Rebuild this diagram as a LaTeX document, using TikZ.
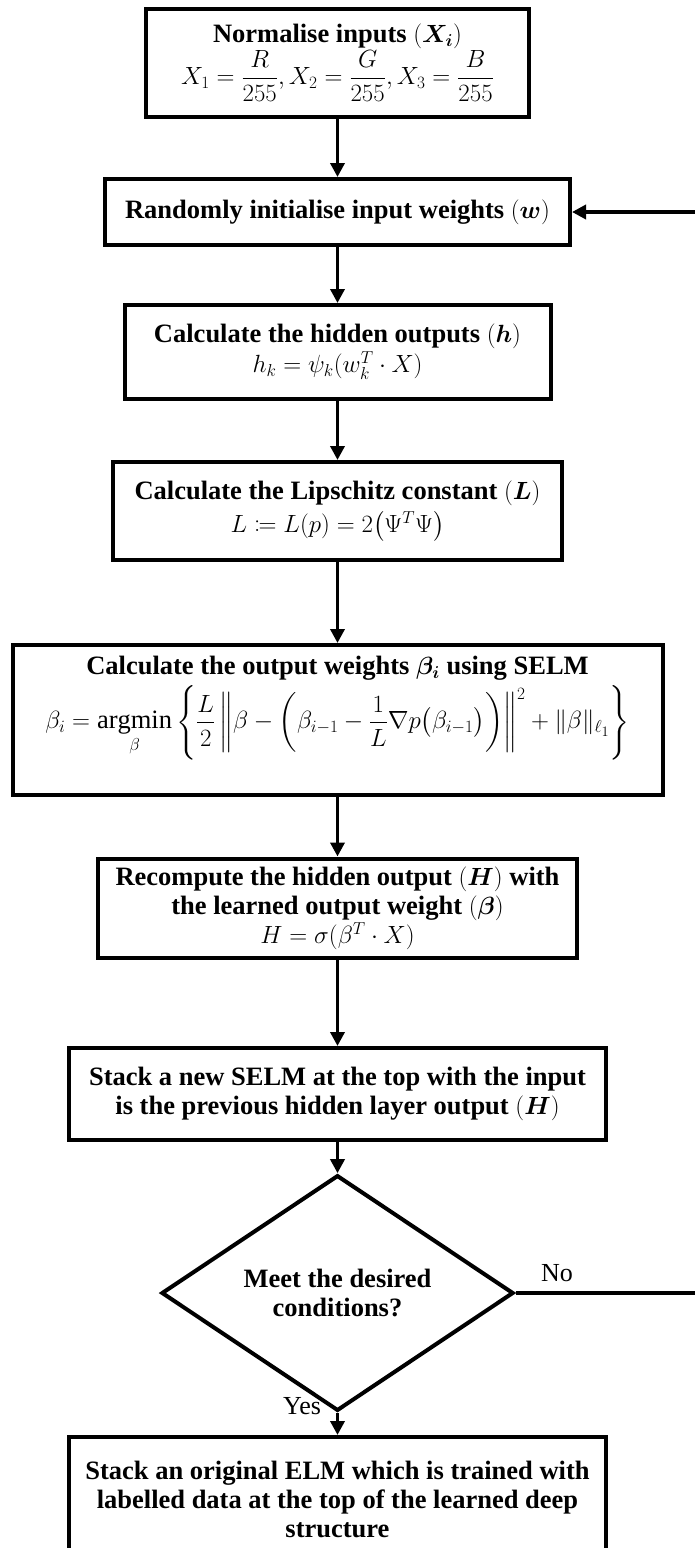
\documentclass[tikz,border=0pt]{standalone}
\usepackage{amsmath,mathtools,bm}
\usepackage{fontspec}
\setmainfont{Liberation Serif}
\usetikzlibrary{arrows.meta,shapes.geometric}
\begin{document}
\begin{tikzpicture}[x=1pt,y=-1pt,
  txt/.style={font=\bfseries\fontsize{26.5}{29}\selectfont,align=center},
  box/.style={txt,draw,line width=4pt,rectangle,inner sep=0pt},
  dia/.style={txt,draw,line width=4pt,diamond,inner sep=0pt},
  flow/.style={line width=3.5pt,-{Triangle[length=14pt,width=14pt]}},
  lbl/.style={font=\fontsize{26}{28}\selectfont,inner sep=0pt}]
\useasboundingbox (0,0) rectangle (694,1548);
\fill[white] (0,0) rectangle (694,1548);

\node[box,minimum width=383,minimum height=108] (b1) at (337.5,63)
  {Normalise inputs $(\bm{X_i})$\\[1pt]
   $X_1=\dfrac{R}{255},X_2=\dfrac{G}{255},X_3=\dfrac{B}{255}$};
\node[box,minimum width=465,minimum height=66] (b2) at (337.5,212)
  {Randomly initialise input weights $(\bm{w})$};
\node[box,minimum width=426,minimum height=94] (b3) at (337.5,352)
  {Calculate the hidden outputs $(\bm{h})$\\[1pt]
   $h_k=\psi_k(w_k^T\cdot X)$};
\node[box,minimum width=449,minimum height=98] (b4) at (337.5,511)
  {Calculate the Lipschitz constant $(\bm{L})$\\[4pt]
   $L\coloneqq L(p)=2\bigl(\Psi^T\Psi\bigr)$};
\node[box,minimum width=650,minimum height=150] (b5) at (337.5,720) {};
\node[txt,inner sep=0pt,anchor=north] (t5) at (337.5,656)
  {Calculate the output weights $\bm{\beta_i}$ using SELM\\[4pt]
   $\displaystyle \beta_i=\operatorname*{argmin}_{\beta}\left\{\frac{L}{2}\left\|\beta-\left(\beta_{i-1}-\frac{1}{L}\nabla p\bigl(\beta_{i-1}\bigr)\right)\right\|^2+\|\beta\|_{\ell_1}\right\}$};
\node[box,minimum width=479,minimum height=99] (b6) at (337.5,908)
  {Recompute the hidden output $(\bm{H})$ with\\
   the learned output weight $(\bm{\beta})$\\
   $H=\sigma(\beta^T\cdot X)$};
\node[box,minimum width=537,minimum height=92] (b7) at (337.5,1094)
  {Stack a new SELM at the top with the input\\
   is the previous hidden layer output $(\bm{H})$};
\node[dia,minimum width=352,minimum height=162] (d) at (337.5,1293)
  {Meet the desired\\conditions?};
\node[box,minimum width=537,minimum height=124] (b8) at (337.5,1499)
  {Stack an original ELM which is trained with\\
   labelled data at the top of the learned deep\\
   structure};

\coordinate (r1) at (700,1293);
\coordinate (r2) at (700,212);

\draw[flow] (b1.south) -- (b2.north);
\draw[flow] (b2.south) -- (b3.north);
\draw[flow] (b3.south) -- (b4.north);
\draw[flow] (b4.south) -- (b5.north);
\draw[flow] (b5.south) -- (b6.north);
\draw[flow] (b6.south) -- (b7.north);
\draw[flow] (b7.south) -- (d.north);
\draw[flow] (d.south) -- (b8.north);
\draw[flow] (d.east) -- (r1) -- (r2) -- (b2.east);

\node[lbl] (no) at (557,1273) {No};
\node[lbl] (yes) at (302,1406) {Yes};
\end{tikzpicture}
\end{document}
